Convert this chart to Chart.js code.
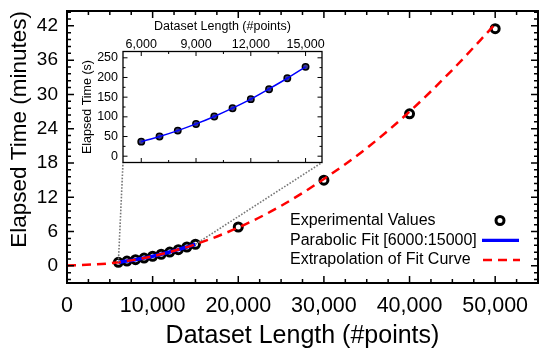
<!DOCTYPE html>
<html>
<head>
<meta charset="utf-8">
<script src="https://cdn.jsdelivr.net/npm/chart.js@4"></script>
<style>
  html, body { margin: 0; padding: 0; background: #fff; }
  #wrap { position: relative; width: 550px; height: 349px; }
  #main { position: absolute; left: 0; top: 0; }
  #inset { position: absolute; left: 80px; top: 12px; }
</style>
</head>
<body>
<div id="wrap">
  <canvas id="main" width="550" height="349"></canvas>
  <canvas id="inset" width="250" height="158"></canvas>
</div>
<script>
// Data
const lengths = [6000, 7000, 8000, 9000, 10000, 11000, 12000, 13000, 14000, 15000];
const secondsMeasured = [37, 50, 65, 82, 101, 122, 145, 170, 198, 227];
const secondsFit = [37, 50, 65, 82, 101, 122, 145, 171, 198, 227];
const bigLengths = [20000, 30000, 40000, 50000];
const bigMinutes = [6.8, 15.0, 26.6, 41.5];
const extrapLengths = [0, 5000, 10000, 15000, 20000, 25000, 30000, 35000, 40000, 45000, 50000];
const extrapMinutes = [0.05, 0.45, 1.68, 3.78, 6.7, 10.5, 15.2, 20.6, 27.0, 34.3, 42.3];

const mainXTicks = [0, 10000, 20000, 30000, 40000, 50000];
const mainYTicks = [0, 6, 12, 18, 24, 30, 36, 42];
const insetXTicks = [6000, 9000, 12000, 15000];
const insetYTicks = [0, 50, 100, 150, 200, 250];

const legendLabels = ['Experimental Values', 'Parabolic Fit [6000:15000]', 'Extrapolation of Fit Curve'];

Chart.defaults.font.family = "'Liberation Sans', Arial, sans-serif";
Chart.defaults.color = '#000';

const INSET_LEFT = 80, INSET_TOP = 12;
const fmt = v => Number(v).toLocaleString('en-US');
const toMin = s => s / 60;

// keep the plot area where the picture has it
function fixX(h) {
  return s => { s.height = h; s.paddingLeft = 0; s.paddingRight = 0; };
}
function fixY(w) {
  return s => { s.width = w; s.paddingTop = 0; s.paddingBottom = 0; };
}

// Frame with inward ticks on all four sides
const frameTicks = {
  id: 'frameTicks',
  afterDatasetsDraw(chart, args, o) {
    const { ctx, chartArea: a, scales: { x, y } } = chart;
    ctx.save();
    ctx.strokeStyle = '#000';
    ctx.lineWidth = o.tickWidth;
    ctx.beginPath();
    for (let k = Math.ceil(x.min / o.xMinor); k * o.xMinor <= x.max + 1e-6; k++) {
      const px = x.getPixelForValue(k * o.xMinor);
      const len = k % o.xPer === 0 ? o.major : o.minor;
      ctx.moveTo(px, a.bottom); ctx.lineTo(px, a.bottom - len);
      ctx.moveTo(px, a.top); ctx.lineTo(px, a.top + len);
    }
    for (let k = Math.ceil(y.min / o.yMinor); k * o.yMinor <= y.max + 1e-6; k++) {
      const py = y.getPixelForValue(k * o.yMinor);
      const len = k % o.yPer === 0 ? o.major : o.minor;
      ctx.moveTo(a.left, py); ctx.lineTo(a.left + len, py);
      ctx.moveTo(a.right, py); ctx.lineTo(a.right - len, py);
    }
    ctx.stroke();
    ctx.lineWidth = o.frame;
    ctx.strokeRect(a.left, a.top, a.right - a.left, a.bottom - a.top);
    ctx.restore();
  }
};

// Inset chart (seconds)
const insetChart = new Chart(document.getElementById('inset'), {
  type: 'line',
  data: {
    datasets: [
      {
        data: lengths.map((x, i) => ({ x, y: secondsFit[i] })),
        borderColor: '#0000ff',
        borderWidth: 1.5,
        pointRadius: 0,
        tension: 0.3
      },
      {
        data: lengths.map((x, i) => ({ x, y: secondsMeasured[i] })),
        showLine: false,
        pointRadius: 3.2,
        pointBorderWidth: 1.5,
        pointBorderColor: '#000',
        pointBackgroundColor: '#3a3a8a'
      }
    ]
  },
  options: {
    responsive: false,
    animation: false,
    devicePixelRatio: 1,
    layout: { padding: { top: 0, right: 8, bottom: 7.5, left: 0 } },
    plugins: {
      legend: { display: false },
      tooltip: { enabled: false },
      frameTicks: { xMinor: 1500, xPer: 2, yMinor: 25, yPer: 2, major: 4.5, minor: 2.5, tickWidth: 1, frame: 1.3 }
    },
    scales: {
      x: {
        type: 'linear', position: 'top', min: 5000, max: 15900,
        grid: { display: false, drawTicks: false }, border: { display: false },
        afterBuildTicks: s => { s.ticks = insetXTicks.map(v => ({ value: v })); },
        ticks: { font: { size: 12.5, lineHeight: 1.05 }, padding: 0, maxRotation: 0, autoSkip: false, callback: v => fmt(v) },
        title: { display: true, text: 'Dataset Length (#points)', font: { size: 12.5 }, padding: { top: 7, bottom: 0 } },
        afterFit: fixX(39.5)
      },
      y: {
        type: 'linear', min: -16, max: 266,
        grid: { display: false, drawTicks: false }, border: { display: false },
        afterBuildTicks: s => { s.ticks = insetYTicks.map(v => ({ value: v })); },
        ticks: { font: { size: 12.5 }, padding: 5 },
        title: { display: true, text: 'Elapsed Time (s)', font: { size: 12.5 }, padding: { top: 0.5, bottom: 0 } },
        afterFit: fixY(43)
      }
    }
  },
  plugins: [frameTicks]
});

// Legend, connector lines
const extras = {
  id: 'extras',
  afterDraw(chart) {
    const { ctx, scales: { x, y } } = chart;
    ctx.save();
    // dotted connectors to the inset
    const ia = insetChart.chartArea;
    const n = lengths.length - 1;
    ctx.strokeStyle = '#777';
    ctx.lineWidth = 1.6;
    ctx.setLineDash([1.6, 1.6]);
    ctx.beginPath();
    ctx.moveTo(x.getPixelForValue(lengths[0]), y.getPixelForValue(toMin(secondsMeasured[0])));
    ctx.lineTo(INSET_LEFT + ia.left, INSET_TOP + ia.bottom);
    ctx.moveTo(x.getPixelForValue(lengths[n]), y.getPixelForValue(toMin(secondsMeasured[n])));
    ctx.lineTo(INSET_LEFT + ia.right, INSET_TOP + ia.bottom);
    ctx.stroke();
    ctx.setLineDash([]);

    // legend
    ctx.font = "16px 'Liberation Sans', Arial, sans-serif";
    ctx.fillStyle = '#000';
    ctx.textBaseline = 'middle';
    const ys = [220.5, 240.3, 260];
    legendLabels.forEach((t, i) => ctx.fillText(t, 290, ys[i]));
    ctx.strokeStyle = '#000';
    ctx.lineWidth = 3;
    ctx.beginPath();
    ctx.arc(500, ys[0], 4, 0, Math.PI * 2);
    ctx.stroke();
    ctx.strokeStyle = '#0000ff';
    ctx.lineWidth = 3.2;
    ctx.beginPath();
    ctx.moveTo(482, ys[1]); ctx.lineTo(519, ys[1]);
    ctx.stroke();
    ctx.strokeStyle = '#ff0000';
    ctx.lineWidth = 2.5;
    ctx.setLineDash([9, 6]);
    ctx.beginPath();
    ctx.moveTo(483, ys[2]); ctx.lineTo(520, ys[2]);
    ctx.stroke();
    ctx.restore();
  }
};

// Main chart (minutes)
new Chart(document.getElementById('main'), {
  type: 'line',
  data: {
    datasets: [
      {
        data: extrapLengths.map((x, i) => ({ x, y: extrapMinutes[i] })),
        borderColor: '#ff0000',
        borderWidth: 2.5,
        borderDash: [9, 6],
        pointRadius: 0,
        cubicInterpolationMode: 'monotone'
      },
      {
        data: lengths.map((x, i) => ({ x, y: toMin(secondsFit[i]) })),
        borderColor: '#0000ff',
        borderWidth: 3.5,
        pointRadius: 0,
        tension: 0.3
      },
      {
        data: lengths.map((x, i) => ({ x, y: toMin(secondsMeasured[i]) }))
          .concat(bigLengths.map((x, i) => ({ x, y: bigMinutes[i] }))),
        showLine: false,
        pointRadius: 4,
        pointBorderWidth: 3,
        pointBorderColor: '#000',
        pointBackgroundColor: 'rgba(0,0,0,0)'
      }
    ]
  },
  options: {
    responsive: false,
    animation: false,
    devicePixelRatio: 1,
    layout: { padding: { top: 11, right: 12, bottom: 0, left: 0 } },
    plugins: {
      legend: { display: false },
      tooltip: { enabled: false },
      frameTicks: { xMinor: 2500, xPer: 4, yMinor: 1.2, yPer: 5, major: 7, minor: 4, tickWidth: 1.5, frame: 2 }
    },
    scales: {
      x: {
        type: 'linear', min: 0, max: 55000,
        grid: { display: false, drawTicks: false }, border: { display: false },
        afterBuildTicks: s => { s.ticks = mainXTicks.map(v => ({ value: v })); },
        ticks: { font: { size: 21.5 }, padding: 10, maxRotation: 0, autoSkip: false, callback: v => fmt(v) },
        title: { display: true, text: 'Dataset Length (#points)', font: { size: 25, lineHeight: 1 }, padding: { top: 0, bottom: 0 } },
        afterFit: fixX(66)
      },
      y: {
        type: 'linear', min: -3, max: 44.6,
        grid: { display: false, drawTicks: false }, border: { display: false },
        afterBuildTicks: s => { s.ticks = mainYTicks.map(v => ({ value: v })); },
        ticks: { font: { size: 19 }, padding: 9 },
        title: { display: true, text: 'Elapsed Time (minutes)', font: { size: 22.5 }, align: 'end', padding: { top: 6, bottom: 0 } },
        afterFit: fixY(67)
      }
    }
  },
  plugins: [frameTicks, extras]
});
</script>
</body>
</html>
